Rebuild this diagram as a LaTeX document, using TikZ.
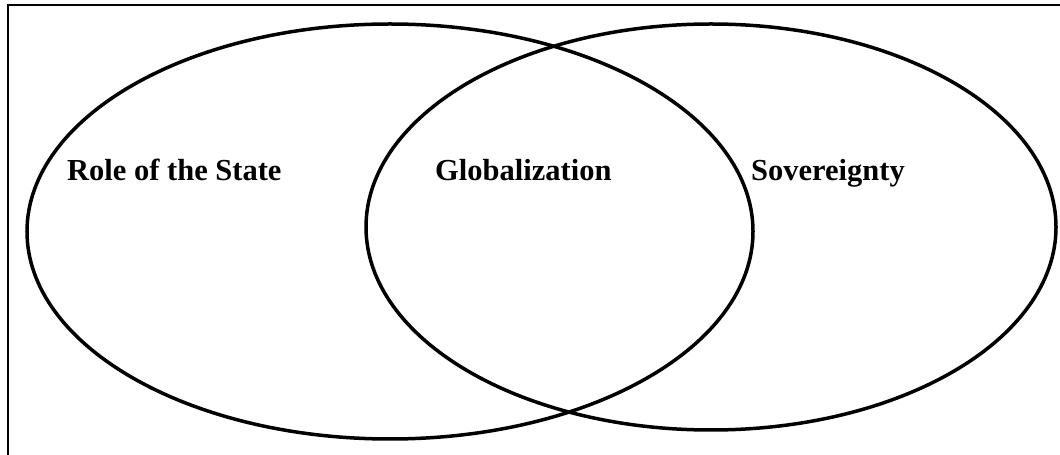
\documentclass[tikz,border=0pt]{standalone}
\usepackage{fontspec}
\setmainfont{Liberation Serif}
\usepackage{tikz}
\usetikzlibrary{positioning}
\tikzset{font=\bfseries\fontsize{30.5}{36}\selectfont}
\tikzset{setline/.style={line width=3.5pt},label/.style={anchor=base west,inner sep=0pt}}

\begin{document}
\begin{tikzpicture}[x=1pt,y=1pt]
  \path[use as bounding box,clip] (0,0) rectangle (1060,455);
  \draw[line width=2pt] (7.5,-20) rectangle (1080,449.5);
  \draw[setline] (390,223.5) ellipse [x radius=363,y radius=207.5];
  \draw[setline] (711,228) ellipse [x radius=345,y radius=203];
\node[label] (state) at (67,274) {Role of the State};
\node[label] (glob) at (435,274) {Globalization};
\node[label] (sov) at (751,274) {Sovereignty};
\end{tikzpicture}
\end{document}
